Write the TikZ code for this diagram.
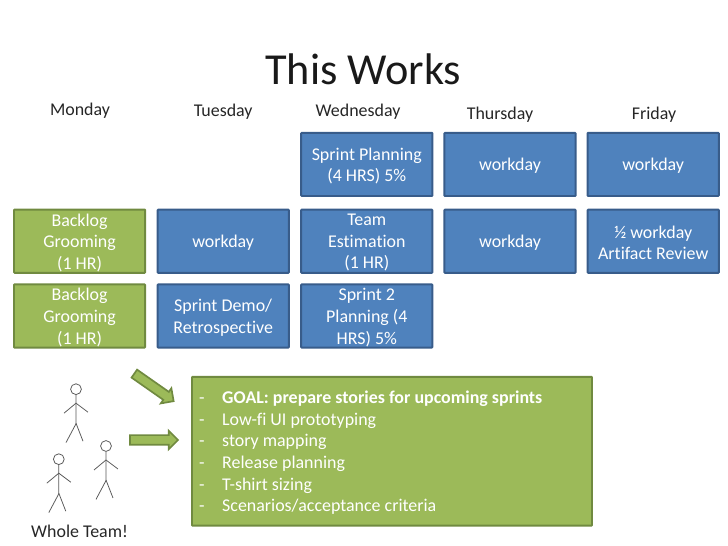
\documentclass[tikz,border=0pt]{standalone}
\usepackage{fontspec}
\setmainfont[Ligatures=NoCommon]{Carlito}
\usetikzlibrary{shapes.arrows}
\definecolor{sprintgreen}{rgb}{0.61,0.73,0.35}
\definecolor{sprintgreenline}{rgb}{0.44,0.54,0.25}
\definecolor{sprintblue}{rgb}{0.31,0.51,0.74}
\definecolor{sprintblueline}{rgb}{0.22,0.36,0.54}
\definecolor{stickline}{rgb}{0.35,0.35,0.35}
\tikzstyle{greenbox}=[rectangle, draw=sprintgreenline, line width=1.4pt, rounded corners=0.5pt, fill=sprintgreen, minimum height=1.58cm, minimum width=3.28cm]
\tikzstyle{bluebox}=[greenbox, draw=sprintblueline, fill=sprintblue]
\tikzstyle{boxtext}=[text=white, align=center, yshift=-0.04cm, font=\fontsize{12.75}{15.4}\selectfont]
\tikzstyle{dayname}=[font=\fontsize{12.75}{15}\selectfont, text=black!85]
\tikzstyle{blockarrow}=[single arrow, draw=sprintgreenline, line width=1.2pt, fill=sprintgreen, minimum height=1.2cm, minimum width=0.45cm, single arrow head extend=0.11cm, inner xsep=0pt, inner ysep=0.1cm]
\tikzstyle{stick}=[draw=stickline, line width=0.55pt]
\newcommand{\greenbox}[3]{
	\node[greenbox] (#1) at (#2) {};
	\node[boxtext] (#1text) at (#2) {#3};}
\newcommand{\bluebox}[3]{
	\node[bluebox] (#1) at (#2) {};
	\node[boxtext] (#1text) at (#2) {#3};}
\newcommand{\dayname}[3]{
	\node[dayname] (#1) at (#2) {#3};}
\newcommand{\stickman}[2]{
	\node[stick, circle, inner sep=0pt, minimum size=0.27cm] (#1) at (#2) {};
	\draw[stick] (#1.south) -- ++(0,-0.72) -- ++(-0.25,-0.47);
	\draw[stick] (#1) ++(0,-0.85) -- ++(0.175,-0.45);
	\draw[stick] (#1) ++(-0.3,-0.6) -- ++(0.3,0.25) -- ++(0.3,-0.225);}

\begin{document}
\begin{tikzpicture}[auto]
	\useasboundingbox (0,0) rectangle (18.2,13.65);
	\node[font=\fontsize{31.5}{34}\selectfont, text=black!90] (title) at (9.08,11.92) {This Works};
	
	\dayname{monday}{2cm,10.87cm}{Monday}
	\dayname{tuesday}{5.58cm,10.85cm}{Tuesday}
	\dayname{wednesday}{8.95cm,10.85cm}{Wednesday}
	\dayname{thursday}{12.5cm,10.79cm}{Thursday}
	\dayname{friday}{16.35cm,10.79cm}{Friday}
	
	\bluebox{planning}{9.17cm,9.54cm}{Sprint Planning\\(4 HRS) 5\%}
	\bluebox{thuone}{12.75cm,9.54cm}{workday}
	\bluebox{frione}{16.33cm,9.54cm}{workday}
	
	\greenbox{grooming}{1.99cm,7.62cm}{Backlog\\Grooming\\(1 HR)}
	\bluebox{tuetwo}{5.58cm,7.62cm}{workday}
	\bluebox{estimation}{9.17cm,7.62cm}{Team\\Estimation\\(1 HR)}
	\bluebox{thutwo}{12.75cm,7.62cm}{workday}
	\bluebox{review}{16.33cm,7.62cm}{½ workday\\Artifact Review}
	
	\greenbox{groomingtwo}{1.99cm,5.75cm}{Backlog\\Grooming\\(1 HR)}
	\bluebox{demo}{5.58cm,5.75cm}{Sprint Demo/\\Retrospective}
	\bluebox{planningtwo}{9.17cm,5.75cm}{Sprint 2\\Planning (4\\HRS) 5\%}
	
	\node[greenbox, minimum width=10cm, minimum height=3.72cm] (goal) at (9.8cm,2.37cm) {};
	\node[boxtext, text width=9.65cm, align=flush left] (goaltext) at (9.8cm,2.37cm) {%
		\makebox[0.58cm][l]{-}\textbf{GOAL: prepare stories for upcoming sprints}\\
		\makebox[0.58cm][l]{-}Low-fi UI prototyping\\
		\makebox[0.58cm][l]{-}story mapping\\
		\makebox[0.58cm][l]{-}Release planning\\
		\makebox[0.58cm][l]{-}T-shirt sizing\\
		\makebox[0.58cm][l]{-}Scenarios/acceptance criteria};
	
	\node[blockarrow, rotate=-35] (arrowone) at (3.8cm,4cm) {};
	\node[blockarrow] (arrowtwo) at (3.79cm,2.65cm) {};
	
	\stickman{manone}{1.9cm,3.92cm}
	\stickman{mantwo}{2.65cm,2.5cm}
	\stickman{manthree}{1.47cm,2.17cm}
	
	\node[dayname] (team) at (1.99cm,0.37cm) {Whole Team!};
\end{tikzpicture}
\end{document}
